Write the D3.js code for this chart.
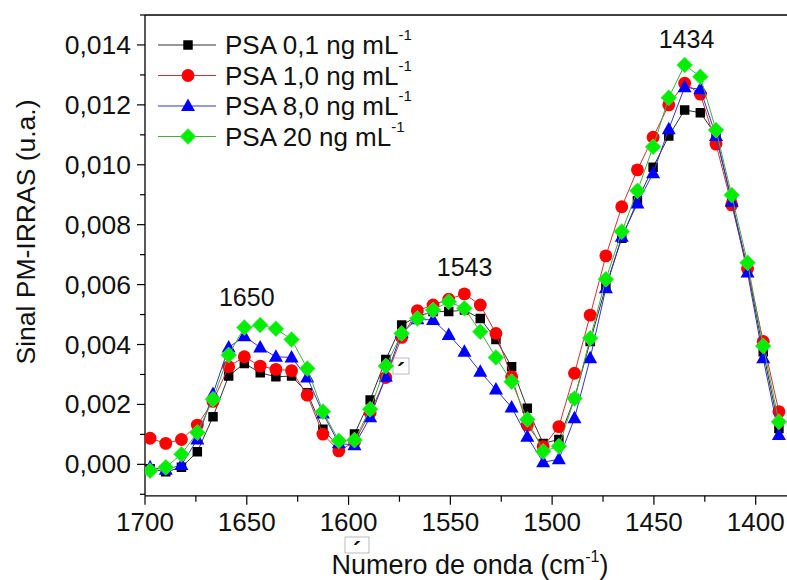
<!DOCTYPE html>
<html>
<head>
<meta charset="utf-8">
<script src="https://cdn.jsdelivr.net/npm/d3@7"></script>
<style>
  body { margin: 0; background: #fff; }
  svg { display: block; font-family: "Liberation Sans", Arial, sans-serif; }
</style>
</head>
<body>
<div id="chart"></div>
<script>
// wavenumbers (cm-1)
var wavenumber = [1697.5, 1689.8, 1682.1, 1674.3, 1666.6, 1658.9, 1651.2, 1643.4, 1635.7, 1628.0,
  1620.3, 1612.6, 1604.8, 1597.1, 1589.4, 1581.7, 1573.9, 1566.2, 1558.5, 1550.8,
  1543.1, 1535.3, 1527.6, 1519.9, 1512.2, 1504.4, 1496.7, 1489.0, 1481.3, 1473.6,
  1465.8, 1458.1, 1450.4, 1442.7, 1434.9, 1427.2, 1419.5, 1411.8, 1404.0, 1396.3, 1388.6];

// signal, in units of 0.001
var psa01 = [-0.15, -0.25, -0.1, 0.42, 1.59, 2.95, 3.37, 3.06, 2.92, 2.95, 2.39, 1.17, 0.58, 1.01, 2.15, 3.5, 4.65, 4.94, 5.1, 5.1,
  5.15, 4.87, 4.17, 3.26, 1.87, 0.7, 0.83, 2.2, 4.1, 5.95, 7.55, 8.8, 9.92, 10.96, 11.83, 11.74, 10.99, 8.8, 6.54, 3.76, 1.2];
var psa10 = [0.87, 0.70, 0.83, 1.31, 2.1, 3.26, 3.59, 3.28, 3.17, 3.13, 2.31, 1.01, 0.45, 0.75, 1.72, 2.9, 4.24, 5.13, 5.32, 5.51,
  5.69, 5.32, 4.37, 2.92, 1.31, 0.59, 1.26, 3.04, 4.98, 6.96, 8.6, 9.83, 10.92, 12.0, 12.72, 12.36, 10.69, 8.66, 6.54, 4.1, 1.76];
var psa80 = [-0.1, -0.18, -0.02, 0.83, 2.35, 3.9, 4.28, 3.9, 3.59, 3.57, 2.9, 1.7, 0.7, 0.64, 1.57, 2.92, 4.4, 4.84, 4.82, 4.32,
  3.76, 3.09, 2.5, 1.9, 0.92, 0.07, 0.17, 1.54, 3.54, 5.88, 7.6, 8.71, 9.72, 11.19, 12.59, 12.52, 10.96, 8.77, 6.4, 3.54, 0.98];
var psa20 = [-0.21, -0.10, 0.34, 1.06, 2.17, 3.65, 4.57, 4.65, 4.53, 4.17, 3.2, 1.76, 0.79, 0.81, 1.84, 3.28, 4.37, 4.87, 5.15, 5.43,
  5.21, 4.43, 3.57, 2.76, 1.5, 0.43, 0.6, 2.2, 4.21, 6.18, 7.77, 9.13, 10.6, 12.24, 13.33, 12.94, 11.16, 8.99, 6.73, 3.95, 1.42];

var seriesNames = ["PSA 0,1 ng mL", "PSA 1,0 ng mL", "PSA 8,0 ng mL", "PSA 20 ng mL"];
var xTicks = [1700, 1650, 1600, 1550, 1500, 1450, 1400];
var yTicks = [0, 2, 4, 6, 8, 10, 12, 14];
var peakLabels = ["1650", "1543", "1434"];
var peakPos = [[1650, 5.3], [1543, 6.3], [1434, 13.9]];

var W = 787, H = 580;
var mLeft = 145, mTop = 15, mBottom = 494.3;

var x = d3.scaleLinear().domain([1700, 1400]).range([mLeft, 755.7]);
var y = d3.scaleLinear().domain([-1, 15]).range([mBottom, mTop]);

var svg = d3.select("#chart").append("svg")
  .attr("width", W)
  .attr("height", H);

var series = [
  {name: seriesNames[0], values: psa01, fill: "#000000", line: "#333333", shape: "square"},
  {name: seriesNames[1], values: psa10, fill: "#ff0000", line: "#cc3333", shape: "circle"},
  {name: seriesNames[2], values: psa80, fill: "#0000ff", line: "#3333cc", shape: "triangle"},
  {name: seriesNames[3], values: psa20, fill: "#00ee00", line: "#44aa44", shape: "diamond"}
];

function markerPath(shape) {
  if (shape === "square") return d3.symbol().type(d3.symbolSquare).size(90)();
  if (shape === "circle") return d3.symbol().type(d3.symbolCircle).size(130)();
  if (shape === "triangle") return "M0,-7.5L7,5L-7,5Z";
  return "M0,-8L8,0L0,8L-8,0Z";
}

// axes
var axisColor = "#000";
var xb = y(-1) + 1.5;
svg.append("line").attr("x1", mLeft).attr("x2", W).attr("y1", mTop).attr("y2", mTop)
  .attr("stroke", axisColor).attr("stroke-width", 1.3);
svg.append("line").attr("x1", mLeft).attr("x2", W).attr("y1", xb).attr("y2", xb)
  .attr("stroke", axisColor).attr("stroke-width", 1.3);
svg.append("line").attr("x1", mLeft).attr("x2", mLeft).attr("y1", mTop).attr("y2", xb)
  .attr("stroke", axisColor).attr("stroke-width", 1.3);

// y ticks
var yAll = d3.range(-1, 16);
svg.append("g").selectAll("line").data(yAll).enter().append("line")
  .attr("x1", function(d) { return d % 2 === 0 ? mLeft - 8 : mLeft - 5; })
  .attr("x2", mLeft)
  .attr("y1", function(d) { return y(d); })
  .attr("y2", function(d) { return y(d); })
  .attr("stroke", axisColor).attr("stroke-width", 1.2);

svg.append("g").selectAll("text").data(yTicks).enter().append("text")
  .attr("x", mLeft - 14)
  .attr("y", function(d) { return y(d) + 9; })
  .attr("text-anchor", "end")
  .attr("font-size", 26.5)
  .attr("fill", "#111")
  .text(function(d) { return (d / 1000).toFixed(3).replace(".", ","); });

// x ticks
var xAll = d3.range(1700, 1370, -25);
svg.append("g").selectAll("line").data(xAll).enter().append("line")
  .attr("x1", function(d) { return x(d); })
  .attr("x2", function(d) { return x(d); })
  .attr("y1", xb)
  .attr("y2", function(d) { return d % 50 === 0 ? xb + 9 : xb + 6; })
  .attr("stroke", axisColor).attr("stroke-width", 1.2);

svg.append("g").selectAll("text").data(xTicks).enter().append("text")
  .attr("x", function(d) { return x(d); })
  .attr("y", 531)
  .attr("text-anchor", "middle")
  .attr("font-size", 26)
  .attr("fill", "#111")
  .text(function(d) { return d; });

// axis titles
svg.append("text")
  .attr("transform", "translate(35," + 232 + ") rotate(-90)")
  .attr("text-anchor", "middle")
  .attr("font-size", 26.5)
  .attr("fill", "#111")
  .text("Sinal PM-IRRAS (u.a.)");

var xt = svg.append("text")
  .attr("x", 470)
  .attr("y", 574)
  .attr("text-anchor", "middle")
  .attr("font-size", 27)
  .attr("fill", "#111");
xt.append("tspan").text("Numero de onda (cm");
xt.append("tspan").attr("font-size", 16).attr("dy", -12).text("-1");
xt.append("tspan").attr("dy", 12).text(")");

// stray accent boxes
var boxes = [[345, 537, 24], [393, 358, 16]];
boxes.forEach(function(b) {
  svg.append("rect").attr("x", b[0]).attr("y", b[1]).attr("width", b[2]).attr("height", 16)
    .attr("fill", "none").attr("stroke", "#aaa").attr("stroke-width", 0.8);
  svg.append("text").attr("x", b[0] + b[2] / 2 - 4).attr("y", b[1] + 22).attr("font-size", 24)
    .attr("font-weight", "bold")
    .attr("fill", "#111").text("\u00b4");
});

// clip
svg.append("clipPath").attr("id", "plotclip").append("rect")
  .attr("x", mLeft).attr("y", mTop).attr("width", W - mLeft).attr("height", mBottom - mTop + 2);

var plot = svg.append("g").attr("clip-path", "url(#plotclip)");

var line = d3.line()
  .x(function(d, i) { return x(wavenumber[i]); })
  .y(function(d) { return y(d); });

series.forEach(function(s) {
  var g = plot.append("g");
  g.append("path")
    .attr("d", line(s.values))
    .attr("fill", "none")
    .attr("stroke", s.line)
    .attr("stroke-width", 1);
  g.selectAll("path.m").data(s.values).enter().append("path")
    .attr("class", "m")
    .attr("d", markerPath(s.shape))
    .attr("transform", function(d, i) { return "translate(" + x(wavenumber[i]) + "," + y(d) + ")"; })
    .attr("fill", s.fill)
    .attr("stroke", s.shape === "diamond" ? "#7fdc7f" : "none")
    .attr("stroke-width", 0.6);
});

// peak labels
svg.append("g").selectAll("text").data(peakLabels).enter().append("text")
  .attr("x", function(d, i) { return x(peakPos[i][0]); })
  .attr("y", function(d, i) { return y(peakPos[i][1]); })
  .attr("text-anchor", "middle")
  .attr("font-size", 25)
  .attr("fill", "#111")
  .text(function(d) { return d; });

// legend
var leg = svg.append("g");
series.forEach(function(s, i) {
  var ly = 45 + i * 30.5;
  leg.append("line").attr("x1", 158).attr("x2", 216).attr("y1", ly).attr("y2", ly)
    .attr("stroke", s.line).attr("stroke-width", 1);
  leg.append("path").attr("d", markerPath(s.shape))
    .attr("transform", "translate(188," + ly + ")")
    .attr("fill", s.fill)
    .attr("stroke", s.shape === "diamond" ? "#7fdc7f" : "none")
    .attr("stroke-width", 0.6);
  var t = leg.append("text").attr("x", 225).attr("y", ly + 9)
    .attr("font-size", 26).attr("fill", "#111");
  t.append("tspan").text(s.name);
  t.append("tspan").attr("font-size", 15).attr("dy", -14).text("-1");
});
</script>
</body>
</html>
